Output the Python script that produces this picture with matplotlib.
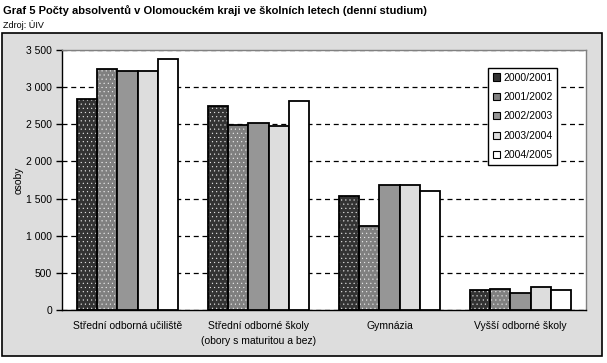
import matplotlib.pyplot as plt
import matplotlib.patches as mpatches
import numpy as np

plt.rcParams['font.family'] = ['Liberation Sans', 'DejaVu Sans']
plt.rcParams['hatch.linewidth'] = 0.3

categories = ['Střední odborná učiliště',
              'Střední odborné školy\n(obory s maturitou a bez)',
              'Gymnázia',
              'Vyšší odborné školy']
years = ['2000/2001', '2001/2002', '2002/2003', '2003/2004', '2004/2005']

v2000 = [2836, 2742, 1535, 269]
v2001 = [3240, 2486, 1131, 283]
v2002 = [3213, 2513, 1683, 229]
v2003 = [3213, 2472, 1683, 310]
v2004 = [3374, 2809, 1602, 269]
series = [v2000, v2001, v2002, v2003, v2004]

colors = ['#333333', '#808080', '#969696', '#dddddd', '#ffffff']
hatches = ['....', '....', None, None, None]

fig = plt.figure(figsize=(6.07, 3.63), dpi=100)
fig.patch.set_facecolor('white')

# sedy ramecek grafu
frame = mpatches.Rectangle((2 / 607, 1 - 356 / 363), 600 / 607, 323 / 363,
                           transform=fig.transFigure, facecolor='#dddddd',
                           edgecolor='black', linewidth=1.2, zorder=-1)
fig.patches.append(frame)

fig.text(3 / 607, 1 - 11 / 363, 'Graf 5 Počty absolventů v Olomouckém kraji ve školních letech (denní studium)',
         fontsize=8, fontweight='bold', va='center', ha='left')
fig.text(3 / 607, 1 - 25 / 363, 'Zdroj: ÚIV', fontsize=6.5, va='center', ha='left')

ax = fig.add_axes([62 / 607, 1 - 310 / 363, 524 / 607, 260 / 363])
ax.set_zorder(2)
ax.set_facecolor('white')

x = np.arange(len(categories))
w = 0.153
legend_handles = []
for i, s in enumerate(series):
    pos = x + (i - 2) * w
    if hatches[i]:
        ax.bar(pos, s, w, color=colors[i], edgecolor='#f0f0f0', hatch=hatches[i], linewidth=0, zorder=2)
        ax.bar(pos, s, w, fill=False, edgecolor='black', linewidth=1.3, zorder=3)
    else:
        ax.bar(pos, s, w, color=colors[i], edgecolor='black', linewidth=1.3, zorder=3)
    legend_handles.append(mpatches.Patch(facecolor=colors[i], edgecolor='black', linewidth=0.8,
                                         label=years[i]))

ax.set_xlim(-0.5, 3.5)
ax.set_ylim(0, 3500)
ax.set_yticks(np.arange(0, 3501, 500))
ax.set_yticklabels([f'{t:,}'.replace(',', ' ') for t in range(0, 3501, 500)], fontsize=7.5)
ax.set_xticks(x)
ax.set_xticklabels(categories, fontsize=7.5, linespacing=1.6)
ax.tick_params(axis='x', length=0, pad=8)
ax.tick_params(axis='y', length=4, width=1, direction='out', pad=3)
ax.yaxis.grid(True, linestyle=(0, (4, 3)), color='black', linewidth=0.9, zorder=1)
ax.set_axisbelow(True)
ax.set_ylabel('osoby', fontsize=7.5, labelpad=2)

for side in ['top', 'right']:
    ax.spines[side].set_color('#808080')
    ax.spines[side].set_linewidth(1)
ax.spines['left'].set_linewidth(1)
ax.spines['bottom'].set_linewidth(1)

leg = ax.legend(handles=legend_handles, loc='upper left',
                bbox_to_anchor=((488 - 62) / 524, (310 - 68) / 260),
                fontsize=7.5, frameon=True, fancybox=False, framealpha=1,
                handlelength=0.7, handleheight=0.7, handletextpad=0.3,
                borderpad=0.45, labelspacing=0.9, borderaxespad=0)
leg.get_frame().set_edgecolor('black')
leg.get_frame().set_linewidth(1)

fig.savefig('out.png', dpi=100, facecolor=fig.get_facecolor())
